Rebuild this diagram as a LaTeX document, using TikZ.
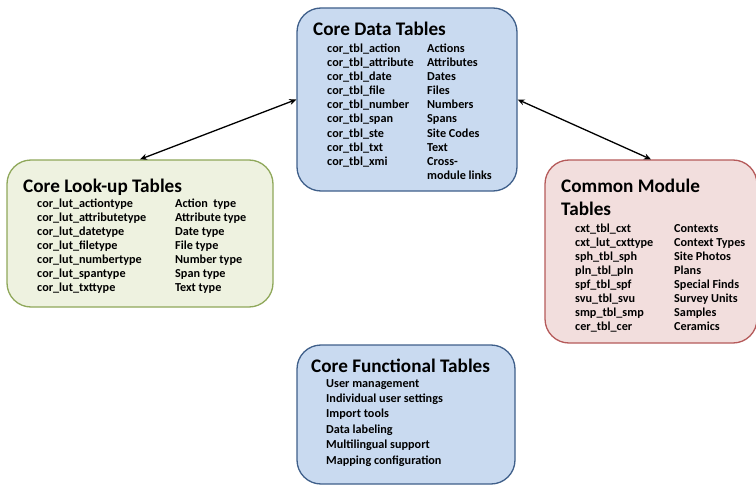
\documentclass[tikz,border=0pt]{standalone}
\usepackage{fontspec}
\setmainfont{Carlito}
\usetikzlibrary{arrows.meta}
\definecolor{bluefill}{HTML}{C9DAF0}
\definecolor{blueline}{HTML}{3F5F8A}
\definecolor{greenfill}{HTML}{EEF2E0}
\definecolor{greenline}{HTML}{8FA85A}
\definecolor{pinkfill}{HTML}{F2DEDD}
\definecolor{pinkline}{HTML}{B55A5A}
\tikzset{
  tbox/.style={rectangle, rounded corners=24pt, line width=1.3pt, inner sep=0pt},
  ttl/.style={anchor=base west, inner sep=0pt, font=\fontsize{19.2}{21}\selectfont\bfseries},
  itm/.style={anchor=base west, inner sep=0pt, font=\fontsize{12.2}{14}\selectfont\bfseries},
  link/.style={{Stealth[length=7pt,width=6pt]}-{Stealth[length=7pt,width=6pt]}, line width=1.3pt, black},
}
\begin{document}
\begin{tikzpicture}[x=1pt,y=-1pt]
\useasboundingbox (0,0) rectangle (756,487);
% boxes
\node[tbox, draw=blueline, fill=bluefill, minimum width=220pt, minimum height=183pt] (cdt) at (407,99.5) {};
\node[tbox, draw=greenline, fill=greenfill, minimum width=266pt, minimum height=147pt] (clt) at (140,233.5) {};
\node[tbox, draw=pinkline, fill=pinkfill, minimum width=212pt, minimum height=183pt] (cmt) at (651,251.5) {};
\node[tbox, draw=blueline, fill=bluefill, minimum width=218pt, minimum height=139pt] (cft) at (406,414.5) {};
% connectors
\draw[link] (clt.north) -- (cdt.west);
\draw[link] (cdt.east) -- (cmt.north);
% Core Data Tables
\node[ttl] (cdtT) at (313,36) {Core Data Tables};
\foreach \a/\b [count=\i from 0] in {cor\_tbl\_action/Actions, cor\_tbl\_attribute/Attributes, cor\_tbl\_date/Dates, cor\_tbl\_file/Files, cor\_tbl\_number/Numbers, cor\_tbl\_span/Spans, cor\_tbl\_ste/Site Codes, cor\_tbl\_txt/Text, cor\_tbl\_xmi/Cross-}{
  \node[itm] (cdtA\i) at (327,53+14*\i) {\a};
  \node[itm] (cdtB\i) at (427,53+14*\i) {\b};
}
\node[itm] (cdtB9) at (427,179) {module links};
% Core Look-up Tables
\node[ttl] (cltT) at (23,193) {Core Look-up Tables};
\foreach \a/\b [count=\i from 0] in {cor\_lut\_actiontype/Action\ \ type, cor\_lut\_attributetype/Attribute type, cor\_lut\_datetype/Date type, cor\_lut\_filetype/File type, cor\_lut\_numbertype/Number type, cor\_lut\_spantype/Span type, cor\_lut\_txttype/Text type}{
  \node[itm] (cltA\i) at (37,207+14*\i) {\a};
  \node[itm] (cltB\i) at (175,207+14*\i) {\b};
}
% Common Module Tables
\node[ttl] (cmtT1) at (561,193) {Common Module};
\node[ttl] (cmtT2) at (561,215) {Tables};
\foreach \a/\b [count=\i from 0] in {cxt\_tbl\_cxt/Contexts, cxt\_lut\_cxttype/Context Types, sph\_tbl\_sph/Site Photos, pln\_tbl\_pln/Plans, spf\_tbl\_spf/Special Finds, svu\_tbl\_svu/Survey Units, smp\_tbl\_smp/Samples, cer\_tbl\_cer/Ceramics}{
  \node[itm] (cmtA\i) at (575,232+14*\i) {\a};
  \node[itm] (cmtB\i) at (674,232+14*\i) {\b};
}
% Core Functional Tables
\node[ttl] (cftT) at (311,372) {Core Functional Tables};
\foreach \a [count=\i from 0] in {User management, Individual user settings, Import tools, Data labeling, Multilingual support, Mapping configuration}{
  \node[itm] (cftA\i) at (326,387+15.4*\i) {\a};
}
\end{tikzpicture}
\end{document}
